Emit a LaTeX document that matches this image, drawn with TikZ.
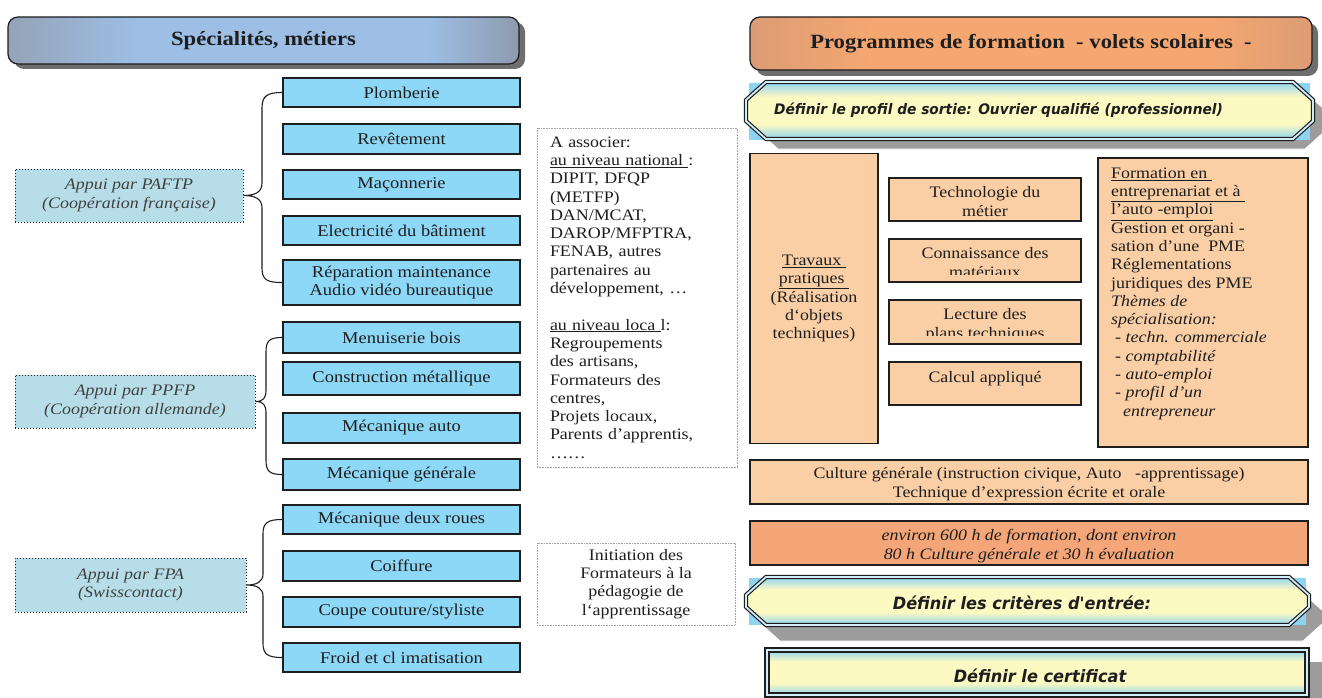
\documentclass[tikz,border=0pt]{standalone}
\usepackage{fontspec}
\setmainfont{Liberation Serif}[FakeStretch=1.12]
\newfontfamily\comicf{DejaVu Sans}[FakeStretch=0.95]
\usetikzlibrary{calc}
\definecolor{boxblue}{HTML}{8DD7F7}
\definecolor{appui}{HTML}{B7DEE8}
\definecolor{peach}{HTML}{FBCFA5}
\definecolor{salmon}{HTML}{F4A679}
\definecolor{hdrblue}{HTML}{9DBFE6}
\definecolor{hdrgray}{HTML}{95A3B8}
\definecolor{hdrgray2}{HTML}{8E9AAE}
\definecolor{hdror}{HTML}{F5A771}
\definecolor{hdrordk}{HTML}{DC9C74}
\definecolor{skyb}{HTML}{8FD3F2}
\definecolor{paley}{HTML}{FCF9C2}
\definecolor{shadowg}{HTML}{9C9C9C}
\definecolor{hdrshadow}{HTML}{6E6E6E}
\definecolor{ink}{HTML}{1E1E1E}
\definecolor{dotgray}{HTML}{A0A0A0}
\pgfdeclareverticalshading{octshade}{100bp}{color(0bp)=(skyb); color(25bp)=(skyb);
  color(38bp)=(paley); color(62bp)=(paley); color(75bp)=(skyb); color(100bp)=(skyb)}
\pgfdeclarehorizontalshading{hdrLshade}{100bp}{color(0bp)=(hdrgray); color(25bp)=(hdrgray);
  color(38bp)=(hdrblue); color(66bp)=(hdrblue); color(75bp)=(hdrgray2); color(100bp)=(hdrgray2)}
\pgfdeclarehorizontalshading{hdrRshade}{100bp}{color(0bp)=(hdrordk); color(25bp)=(hdrordk);
  color(36bp)=(hdror); color(66bp)=(hdror); color(75bp)=(hdrordk); color(100bp)=(hdrordk)}
\tikzset{
  txt/.style={font=\fontsize{16}{18.3}\selectfont, text=ink, inner sep=0pt},
  bluebox/.style={draw=ink, line width=1.6pt, fill=boxblue, minimum width=237pt, inner sep=0pt,
    align=center, font=\fontsize{16.5}{18.5}\selectfont, text=ink},
  appuibox/.style={draw=ink, line width=1pt, dotted, fill=appui, inner sep=0pt, align=center,
    font=\fontsize{16}{18.3}\selectfont\itshape, text=ink!85},
  brace/.style={draw=ink, line width=1.1pt},
  dotbox/.style={draw=dotgray, line width=0.6pt, densely dotted},
  orbox/.style={draw=ink, line width=1.5pt, fill=peach},
  hdr/.style={draw=ink, line width=1.2pt, rounded corners=10pt, inner sep=0pt,
    font=\fontsize{20.2}{24}\selectfont\bfseries, text=ink},
  octo/.style={draw=ink, line width=1.2pt, double=skyb!40!white, double distance=1.8pt,
    shading=octshade},
  comic/.style={font=\fontsize{14.5}{17}\comicf\bfseries\itshape, text=ink, inner sep=0pt},
  bigcomic/.style={font=\fontsize{17}{20}\comicf\bfseries\itshape, text=ink, inner sep=0pt},
  oct/.style n args={4}{insert path={(#1+20,#2) -- (#3-20,#2) -- (#3,#2+18) -- (#3,#4-18)
    -- (#3-20,#4) -- (#1+20,#4) -- (#1,#4-18) -- (#1,#2+18) -- cycle}}
}
\begin{document}
\begin{tikzpicture}[x=1pt,y=-1pt]
\useasboundingbox (0,0) rectangle (1322,698);
\clip (0,0) rectangle (1322,698);
\fill[white] (0,0) rectangle (1322,698);

% ---------- headers
\fill[hdrshadow, rounded corners=10pt] (14,22) rectangle (525,69);
\node[hdr, shading=hdrLshade, minimum width=511pt, minimum height=47pt] (hL) at (263.5,40.5) {Spécialités, métiers};
\fill[hdrshadow, rounded corners=10pt] (756,23) rectangle (1318,76);
\node[hdr, shading=hdrRshade, minimum width=562pt, minimum height=53pt] (hR) at (1031,43.5) {Programmes de formation\ \ - volets scolaires\ \ -};

% ---------- left column boxes
\node[bluebox, minimum height=29pt] (plomb) at (401.5,92.5) {Plomberie};
\node[bluebox, minimum height=30pt] (revet) at (401.5,139) {Revêtement};
\node[bluebox, minimum height=29pt] (macon) at (401.5,184.5) {Maçonnerie};
\node[bluebox, minimum height=29pt] (elec) at (401.5,230.5) {Electricité du bâtiment};
\node[bluebox, minimum height=45pt] (repar) at (401.5,282.5) {Réparation maintenance\\Audio vidéo bureautique};
\node[bluebox, minimum height=31pt] (menui) at (401.5,337.5) {Menuiserie bois};
\node[bluebox, minimum height=33pt] (constr) at (401.5,378.5) {Construction métallique};
\node[bluebox, minimum height=30pt] (mecauto) at (401.5,428) {Mécanique auto};
\node[bluebox, minimum height=31pt] (mecgen) at (401.5,474.5) {Mécanique générale};
\node[bluebox, minimum height=29pt] (mec2) at (401.5,519.5) {Mécanique deux roues};
\node[bluebox, minimum height=30pt] (coif) at (401.5,566) {Coiffure};
\node[bluebox, minimum height=30pt] (coupe) at (401.5,612) {Coupe couture/styliste};
\node[bluebox, minimum height=29pt] (froid) at (401.5,657.5) {Froid et cl imatisation};

% ---------- support boxes
\node[appuibox, minimum width=228pt, minimum height=53pt] (paf) at (129,195.5) {Appui par PAFTP\\(Coopération française)};
\node[appuibox, minimum width=240pt, minimum height=53pt] (ppfp) at (135,401.5) {Appui par PPFP\\(Coopération allemande)};
\node[appuibox, minimum width=231pt, minimum height=54pt] (fpa) at (130.5,585) {Appui par FPA\\(Swisscontact)};

% ---------- braces
\draw[brace] (plomb.west) .. controls +(-15,0) and +(0,-12) .. (262,108) -- (262,183)
  .. controls +(0,9) and +(12,0) .. (paf.east)
  .. controls +(12,0) and +(0,-9) .. (262,208) -- (262,268)
  .. controls +(0,12) and +(-15,0) .. (repar.west);
\draw[brace] (menui.west) .. controls +(-13,0) and +(0,-11) .. (266,352) -- (266,390)
  .. controls +(0,8) and +(8,0) .. (ppfp.east)
  .. controls +(8,0) and +(0,-8) .. (266,413) -- (266,460)
  .. controls +(0,11) and +(-13,0) .. (mecgen.west);
\draw[brace] (mec2.west) .. controls +(-15,0) and +(0,-11) .. (263,534) -- (263,574)
  .. controls +(0,8) and +(10,0) .. (fpa.east)
  .. controls +(10,0) and +(0,-8) .. (263,596) -- (263,643)
  .. controls +(0,11) and +(-15,0) .. (froid.west);

% ---------- partners boxes
\node[dotbox, txt, minimum width=200pt, minimum height=339pt, text width=174pt, align=left] (assoc) at (637,297.5)
 {A associer:\\
  \underline{au niveau national\ }:\\
  DIPIT, DFQP\\
  (METFP)\\
  DAN/MCAT,\\
  DAROP/MFPTRA,\\
  FENAB, autres\\
  partenaires au\\
  développement, …\\[18.3pt]
  \underline{au niveau loca\ }l:\\
  Regroupements\\
  des artisans,\\
  Formateurs des\\
  centres,\\
  Projets locaux,\\
  Parents d’apprentis,\\
  ……};
\node[dotbox, txt, minimum width=198pt, minimum height=82pt, align=center] (init) at (636,584)
 {Initiation des\\Formateurs à la\\pédagogie de\\l‘apprentissage};

% ---------- profil octagon
\path[fill=shadowg, draw=white, line width=0.8pt, oct={758}{92}{1325}{149}];
\fill[skyb] (749,83) rectangle (1310,140);
\path[octo, oct={746}{82}{1313}{139}];
\node[comic, anchor=west] (profil) at (774,110) {Définir le profil de sortie: Ouvrier qualifié (professionnel)};

% ---------- program boxes
\node[orbox, line width=1.8pt, minimum width=128pt, minimum height=290pt, txt, align=center] (trav) at (814,298.5)
 {\underline{Travaux\ }\\\underline{pratiques\ }\\(Réalisation\\d‘objets\\techniques)};

\node[orbox, minimum width=192pt, minimum height=43pt] (tech) at (985,199.5) {};
\node[txt, anchor=north, align=center] (techt) at (985,186.5) {Technologie du\\métier};

\node[orbox, minimum width=192pt, minimum height=43pt] (conn) at (985,260.5) {};
\begin{scope}
  \clip (889,239) rectangle (1081,274.5);
  \node[txt, anchor=north, align=center] (connt) at (985,247.5) {Connaissance des\\matériaux};
\end{scope}

\node[orbox, minimum width=192pt, minimum height=44pt] (lect) at (985,322) {};
\begin{scope}
  \clip (889,300) rectangle (1081,335.5);
  \node[txt, anchor=north, align=center] (lectt) at (985,308.5) {Lecture des\\plans techniques};
\end{scope}

\node[orbox, minimum width=192pt, minimum height=43pt] (calc) at (985,383.5) {};
\node[txt, anchor=north, align=center] (calct) at (985,371) {Calcul appliqué};

\node[orbox, minimum width=210pt, minimum height=289pt] (form) at (1203,302.5) {};
\node[txt, anchor=north west, align=left] (formt) at (1111,167.5)
 {\underline{Formation en\ }\\
  \underline{entreprenariat et à\ }\\
  \underline{l’auto -emploi}\\
  Gestion et organi -\\
  sation d’une\ \ PME\\
  Réglementations\\
  juridiques des PME\\
  \textit{Thèmes de}\\
  \textit{spécialisation:}\\
  \hspace*{4pt}\textit{- techn. commerciale}\\
  \hspace*{4pt}\textit{- comptabilité}\\
  \hspace*{4pt}\textit{- auto-emploi}\\
  \hspace*{4pt}\textit{- profil d’un}\\
  \hspace*{12pt}\textit{entrepreneur}};

\node[orbox, minimum width=558pt, minimum height=44pt] (cult) at (1029,482) {};
\begin{scope}
  \clip (750,460) rectangle (1308,501);
  \node[txt, align=center] (cultt) at (1029,484)
   {Culture générale (instruction civique, Auto\ \ \ -apprentissage)\\Technique d’expression écrite et orale};
\end{scope}

\node[orbox, fill=salmon, minimum width=558pt, minimum height=44pt] (env) at (1029,543) {};
\begin{scope}
  \clip (750,521) rectangle (1308,562);
  \node[txt, align=center, font=\fontsize{16}{18.3}\selectfont\itshape] (envt) at (1029,546)
   {environ 600 h de formation, dont environ\\80 h Culture générale et 30 h évaluation};
\end{scope}

% ---------- criteres octagon
\path[fill=shadowg, draw=white, line width=0.8pt, oct={760}{593}{1323}{641}];
\fill[skyb] (749,578) rectangle (1306,625);
\path[octo, oct={746}{577}{1309}{625}];
\node[bigcomic] (crit) at (1022,603) {Définir les critères d'entrée:};

% ---------- certificat
\fill[shadowg] (1300,662) rectangle (1322,698);
\path[draw=ink, line width=1.6pt, double=skyb!40!white, double distance=2.5pt,
  shading=octshade] (767,650) rectangle (1307,695);
\node[bigcomic] (cert) at (1040,676) {Définir le certificat};
\end{tikzpicture}
\end{document}
